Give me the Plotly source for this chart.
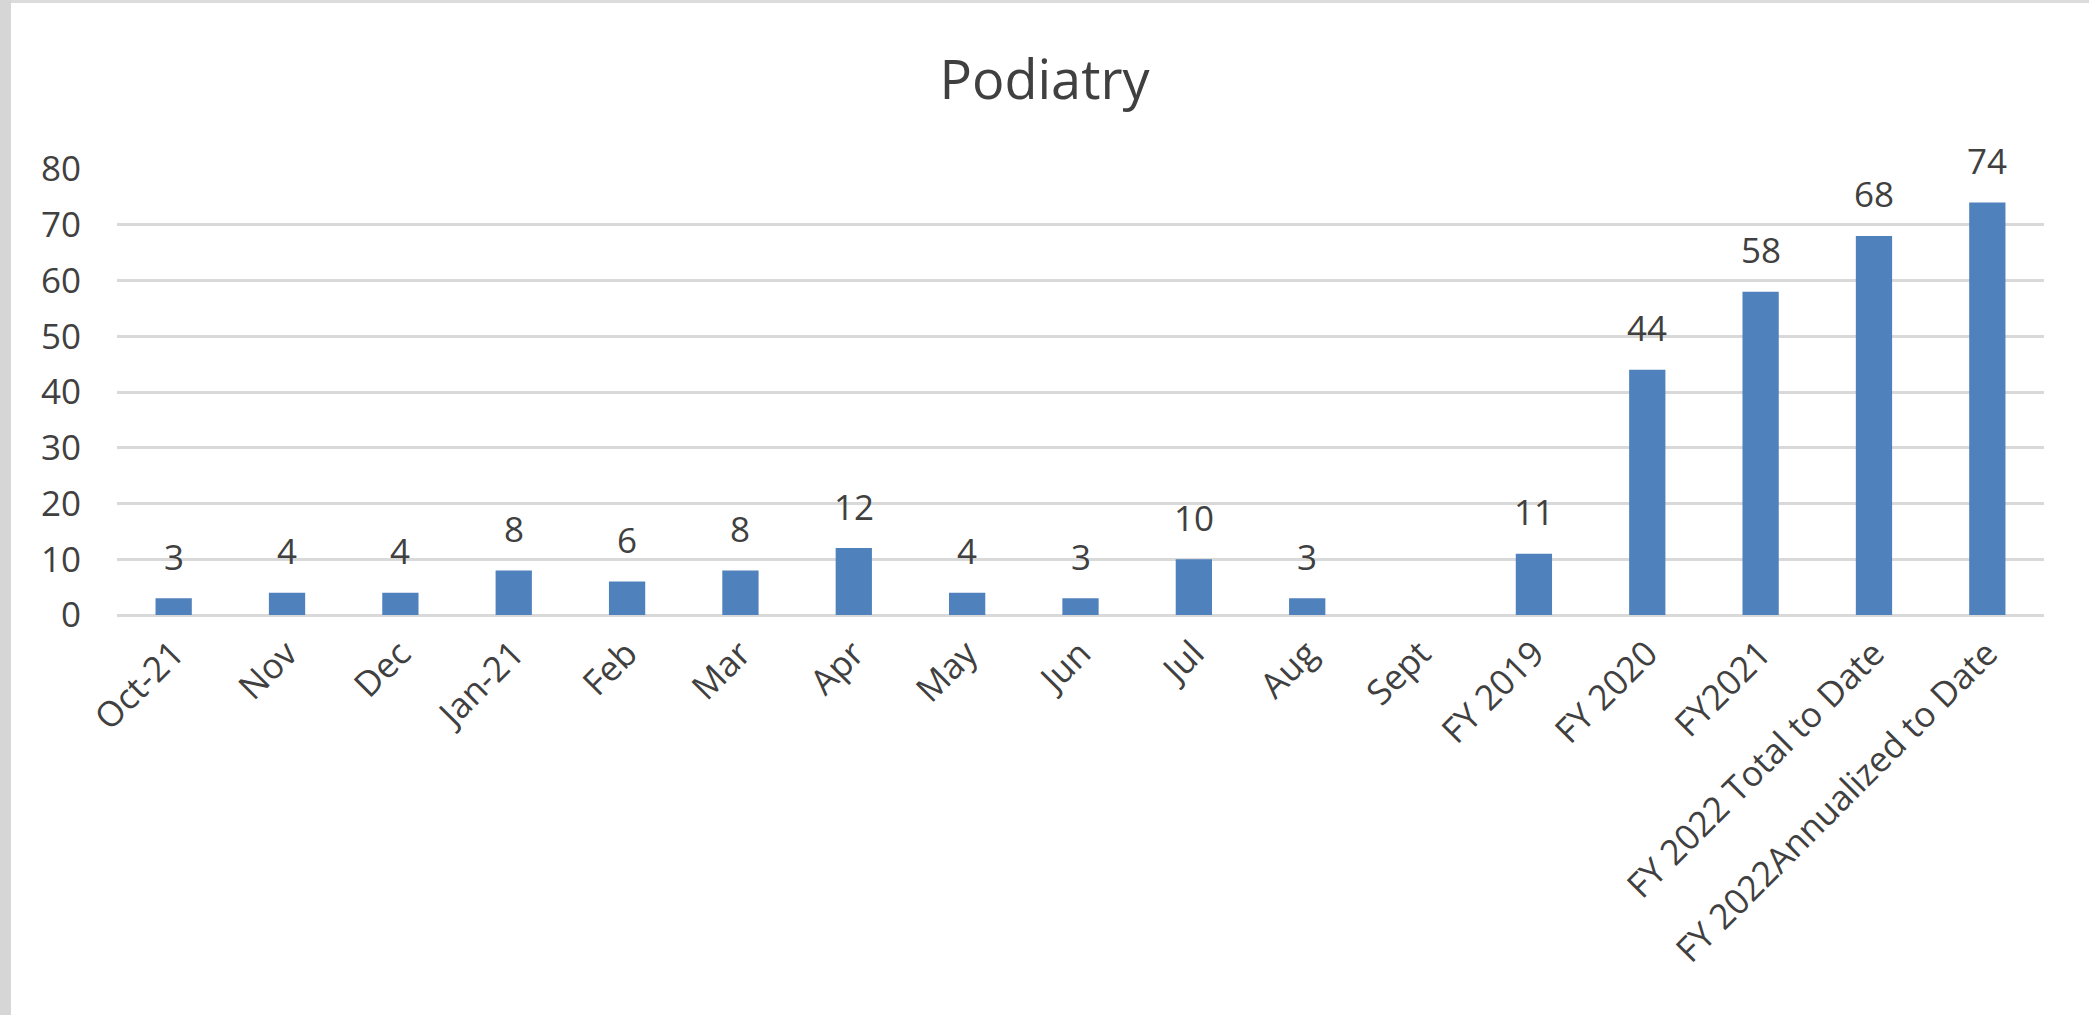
import plotly.graph_objects as go

# Podiatry visit counts by month and fiscal year
categories = ["Oct-21", "Nov", "Dec", "Jan-21", "Feb", "Mar", "Apr", "May", "Jun",
              "Jul", "Aug", "Sept", "FY 2019", "FY 2020", "FY2021",
              "FY 2022 Total to Date", "FY 2022Annualized to Date"]
visits = [3, 4, 4, 8, 6, 8, 12, 4, 3, 10, 3, None, 11, 44, 58, 68, 74]
y_ticks = [0, 10, 20, 30, 40, 50, 60, 70, 80]

FONT = "Open Sans"
TEXT = "#404040"
BAR = "#4f81bd"
GRID = "#d9d9d9"
SIZE = 35

W, H = 2089, 1015
L, R, T, B = 117, 45, 169, 400

fig = go.Figure()
fig.add_trace(go.Bar(
    x=categories, y=visits,
    marker=dict(color=BAR, line=dict(width=0)),
    width=0.32,
    hoverinfo="x+y",
))

# value labels above each bar
for c, v in zip(categories, visits):
    if v is None:
        continue
    fig.add_annotation(x=c, y=v, text=str(v), showarrow=False,
                       yanchor="middle", yshift=42,
                       font=dict(family=FONT, size=SIZE, color=TEXT))

# window frame: grey strip on the left and thin line on top
pw = W - L - R
ph = H - T - B


def px_x(px):
    return (px - L) / pw


def px_y(py):
    return (H - B - py) / ph


fig.add_shape(type="rect", xref="paper", yref="paper", layer="below",
              x0=px_x(0), x1=px_x(11), y0=px_y(H), y1=px_y(0),
              fillcolor="#d6d6d6", line=dict(width=0))
fig.add_shape(type="rect", xref="paper", yref="paper", layer="below",
              x0=px_x(11), x1=px_x(W), y0=px_y(3), y1=px_y(0),
              fillcolor="#dcdcdc", line=dict(width=0))

fig.update_layout(
    width=W, height=H,
    margin=dict(l=L, r=R, t=T, b=B, pad=0),
    paper_bgcolor="white", plot_bgcolor="white",
    showlegend=False,
    title=dict(text="Podiatry", x=0.5, xref="container", xanchor="center",
               y=1 - 80 / H, yanchor="middle", yref="container",
               font=dict(family=FONT, size=54, color=TEXT)),
    font=dict(family=FONT, size=SIZE, color=TEXT),
    xaxis=dict(
        type="category", tickangle=-45, showgrid=False,
        showline=False, ticks="", zeroline=False,
        tickfont=dict(family=FONT, size=SIZE, color=TEXT),
        ticklabelstandoff=10,
    ),
    yaxis=dict(
        range=[0, 80], tickvals=y_ticks, showgrid=True,
        gridcolor=GRID, gridwidth=3, zeroline=True, zerolinecolor=GRID,
        zerolinewidth=3, showline=False, ticks="",
        tickfont=dict(family=FONT, size=SIZE, color=TEXT),
        ticklabelstandoff=35,
    ),
)

fig.write_html("out.html")
